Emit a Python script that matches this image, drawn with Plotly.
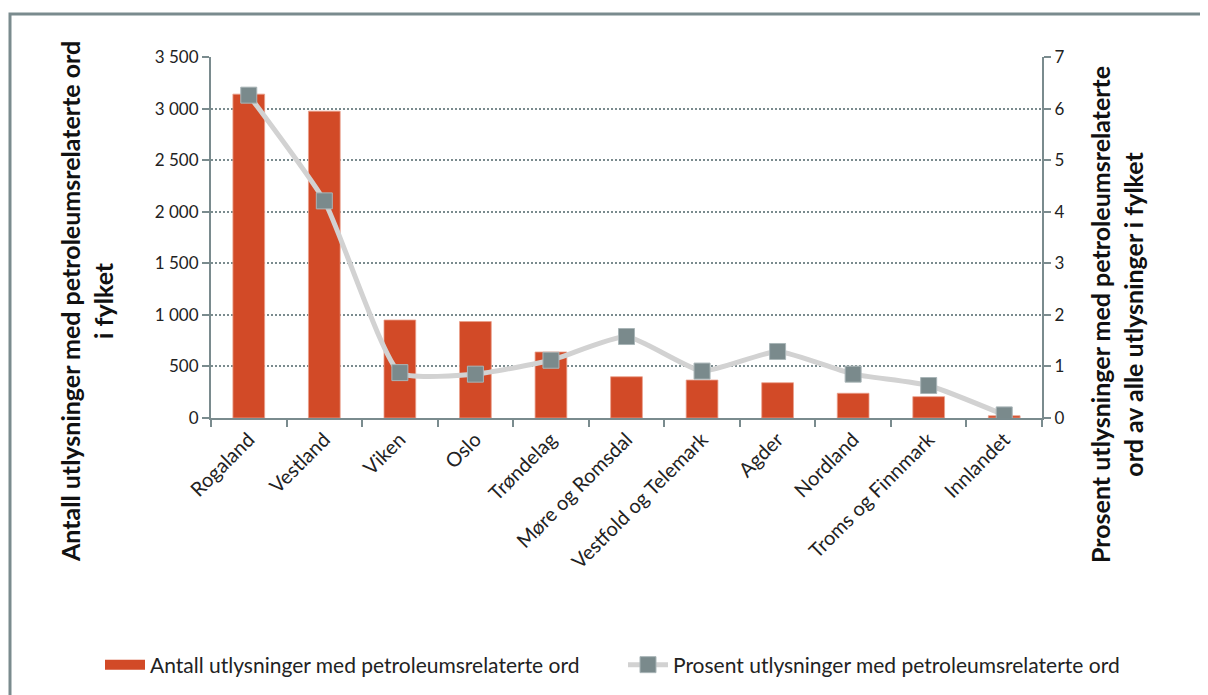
import plotly.graph_objects as go

categories = ["Rogaland", "Vestland", "Viken", "Oslo", "Trøndelag", "Møre og Romsdal",
              "Vestfold og Telemark", "Agder", "Nordland", "Troms og Finnmark", "Innlandet"]
antall = [3140, 2975, 950, 935, 640, 400, 368, 342, 240, 207, 22]
prosent = [6.26, 4.21, 0.88, 0.85, 1.12, 1.58, 0.91, 1.29, 0.85, 0.63, 0.06]

bar_name = "Antall utlysninger med petroleumsrelaterte ord"
line_name = "Prosent utlysninger med petroleumsrelaterte ord"
left_title = "<b>Antall utlysninger med petroleumsrelaterte ord<br>i fylket</b>"
right_title = "<b>Prosent utlysninger med petroleumsrelaterte<br>ord av alle utlysninger i fylket</b>"

FONT = "Lato"
AX = "#7a8b8e"
BAR = "#d24a27"

OFF = 8  # page body margin
W, H = 1208 - OFF, 695 - OFF
L, R, T, B = 211 - OFF, 1042 - OFF, 57 - OFF, 418 - OFF


def px_x(p):
    return (p - OFF - L) / (R - L)


def px_y(p):
    return (B - (p - OFF)) / (B - T)


fig = go.Figure()
fig.add_trace(go.Bar(x=categories, y=antall, name=bar_name, marker_color=BAR,
                     marker_line=dict(width=0.8, color="#eaa08c"), showlegend=False))
# legend entry for bars (wide swatch)
fig.add_trace(go.Scatter(x=[None], y=[None], mode="lines", name=bar_name,
                         line=dict(color=BAR, width=14), legend="legend"))
fig.add_trace(go.Scatter(x=categories, y=prosent, name=line_name, yaxis="y2",
                         mode="lines+markers", legend="legend2",
                         line=dict(color="#d2d2d2", width=5, shape="spline", smoothing=0.5),
                         marker=dict(symbol="square", size=16, color="#7a8a8c",
                                     line=dict(width=1, color="#a9b5b7"))))

leg_common = dict(orientation="h", xanchor="left", y=px_y(665), yanchor="middle",
                  font=dict(size=21, family=FONT, color="#222222"), itemwidth=40,
                  bgcolor="rgba(0,0,0,0)")

fig.update_layout(
    width=W, height=H,
    margin=dict(l=L, r=W - R, t=T, b=H - B, autoexpand=False),
    paper_bgcolor="white", plot_bgcolor="white",
    separators=", ",
    font=dict(family=FONT, size=17, color="#222222"),
    bargap=0.58,
    showlegend=True,
    legend=dict(x=px_x(100), **leg_common),
    legend2=dict(x=px_x(623), **leg_common),
    xaxis=dict(range=[-0.5, len(categories) - 0.5], showline=True, linecolor=AX, linewidth=2,
               ticks="outside", tickson="boundaries",
               ticklen=7, tickcolor=AX, tickwidth=2, tickangle=-45, showgrid=False,
               tickfont=dict(size=20, family=FONT)),
    yaxis=dict(range=[0, 3500], dtick=500, showline=True, linecolor=AX, linewidth=2,
               ticks="outside", ticklen=7, tickcolor=AX, tickwidth=2,
               separatethousands=True, showgrid=True, gridcolor=AX, griddash="2px,2px",
               gridwidth=1.5, zeroline=False, tickfont=dict(size=17, family=FONT)),
    yaxis2=dict(range=[0, 7], dtick=1, overlaying="y", side="right", showline=True,
                linecolor=AX, linewidth=2, ticks="outside", ticklen=7, tickcolor=AX, tickwidth=2,
                showgrid=False, zeroline=False, tickfont=dict(size=17, family=FONT)),
    shapes=[dict(type="rect", xref="paper", yref="paper",
                 x0=px_x(10), x1=px_x(1240), y0=px_y(740), y1=px_y(14),
                 line=dict(color=AX, width=3), fillcolor="rgba(0,0,0,0)", layer="below")],
    annotations=[
        dict(text=left_title, xref="paper", yref="paper", x=px_x(86), y=px_y(302),
             xanchor="center", yanchor="middle", textangle=-90, showarrow=False,
             font=dict(size=25, family=FONT, color="#111111"), align="center"),
        dict(text=right_title, xref="paper", yref="paper", x=px_x(1116), y=px_y(315),
             xanchor="center", yanchor="middle", textangle=-90, showarrow=False,
             font=dict(size=25, family=FONT, color="#111111"), align="center"),
    ],
)

fig.write_html("out.html")
